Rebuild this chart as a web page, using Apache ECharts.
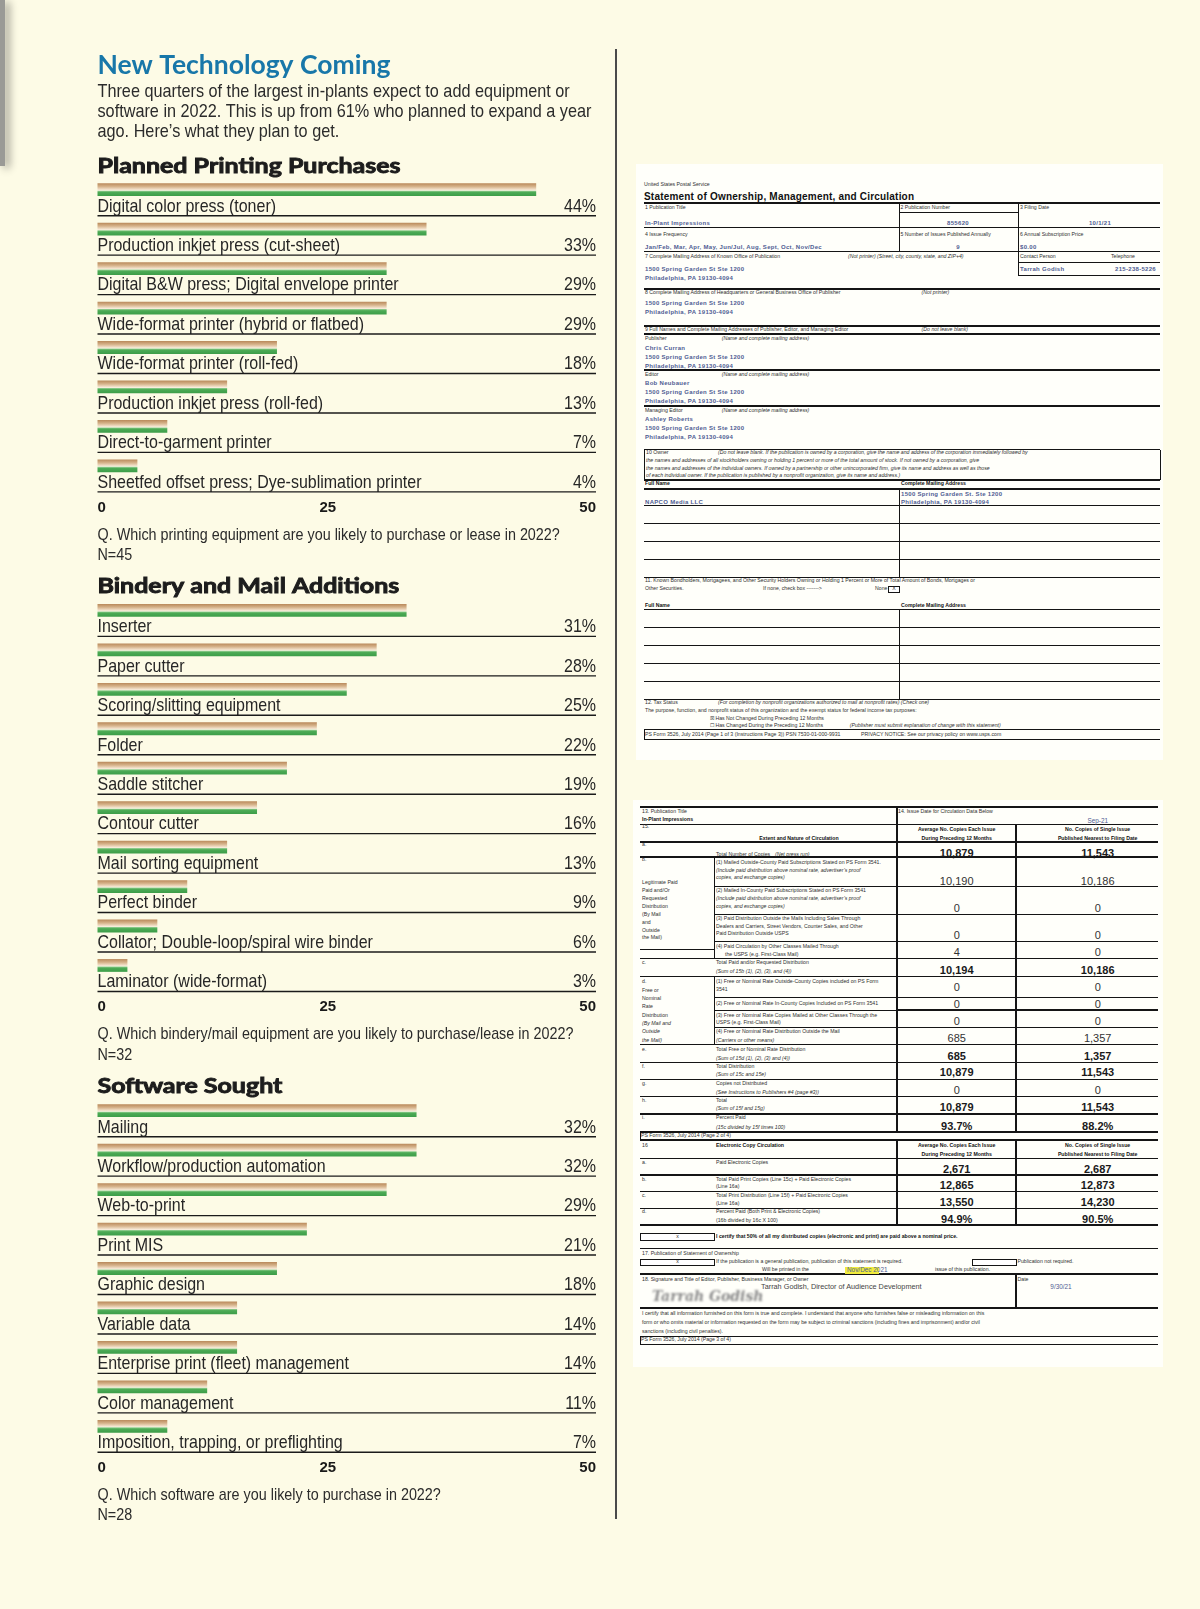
<!DOCTYPE html>
<html><head><meta charset="utf-8">
<script src="https://cdn.jsdelivr.net/npm/echarts@6/dist/echarts.min.js"></script>
<style>
html,body{margin:0;padding:0;background:#fdfbe6;}
#page{position:relative;width:1200px;height:1609px;overflow:hidden;background:#fdfbe6;}
#chart{position:absolute;left:0;top:0;width:612px;height:1609px;}
.panel{position:absolute;background:#fffffa;}
.ln{position:absolute;background:#151515;}
.bx{position:absolute;border:1.2px solid #151515;box-sizing:border-box;background:#fff;}
.tx{position:absolute;white-space:nowrap;font-family:"Liberation Sans",Arial,sans-serif;color:#303030;line-height:1.1;}
.t{font-size:5.2px;}
.ti{font-size:5.2px;font-style:italic;}
.tb{font-size:5.2px;font-weight:bold;color:#111;}
.bl{font-size:6px;font-weight:bold;color:#4f5d93;letter-spacing:.3px;}
.blr{font-size:6.4px;color:#4f5d93;}
.h{font-size:10px;font-weight:bold;color:#111;letter-spacing:.2px;}
.vb{font-size:11px;font-weight:bold;color:#1a1a1a;}
.vr{font-size:11px;color:#333;}
.nm{font-size:7.3px;color:#444;}
.sig{font-size:14px;font-style:italic;font-family:"DejaVu Serif",serif;color:#8a8a8a;filter:blur(1.1px);font-weight:bold;}
.hl{background:#f1ec3c;}
#divider{position:absolute;left:615px;top:49px;width:1.5px;height:1470px;background:#4a4a4a;}
#shadow{position:absolute;left:0;top:0;width:5px;height:166px;background:#9a9a96;box-shadow:4px 2px 9px rgba(0,0,0,.45);}
</style></head><body>
<div id="page"><div id="shadow"></div><div id="chart"></div><div id="divider"></div><div id="form"></div></div>
<script>
// ---------------- data ----------------
const printCats = ['Digital color press (toner)','Production inkjet press (cut-sheet)','Digital B&W press; Digital envelope printer','Wide-format printer (hybrid or flatbed)','Wide-format printer (roll-fed)','Production inkjet press (roll-fed)','Direct-to-garment printer','Sheetfed offset press; Dye-sublimation printer'];
const printVals = [44,33,29,29,18,13,7,4];
const binderyCats = ['Inserter','Paper cutter','Scoring/slitting equipment','Folder','Saddle stitcher','Contour cutter','Mail sorting equipment','Perfect binder','Collator; Double-loop/spiral wire binder','Laminator (wide-format)'];
const binderyVals = [31,28,25,22,19,16,13,9,6,3];
const softwareCats = ['Mailing','Workflow/production automation','Web-to-print','Print MIS','Graphic design','Variable data','Enterprise print (fleet) management','Color management','Imposition, trapping, or preflighting'];
const softwareVals = [32,32,29,21,18,14,14,11,7];
const axisTicks = [0,25,50];

// ---------------- styles ----------------
const SANS = '"Liberation Sans",Arial,sans-serif';
const ROW = 39.45;
const X0 = 97.5, XW = 498.5;
const LABEL_FS = 18.5, LABEL_SX = 0.864;
const TAN = {type:'linear',x:0,y:0,x2:0,y2:1,colorStops:[{offset:0,color:'#b9895a'},{offset:0.45,color:'#d6b38b'},{offset:0.8,color:'#efdcc4'},{offset:1,color:'#fbf3e6'}]};
const GREEN = {type:'linear',x:0,y:0,x2:0,y2:1,colorStops:[{offset:0,color:'#9fd39a'},{offset:0.3,color:'#4dab56'},{offset:1,color:'#3c9d48'}]};

const sections = [
  {cats: printCats, vals: printVals, top: 182.3},
  {cats: binderyCats, vals: binderyVals, top: 603},
  {cats: softwareCats, vals: softwareVals, top: 1103.3}
];

function txt(x, baseline, text, font, fill, fs, opts){
  opts = opts || {};
  const y = baseline - (opts.mid||0.35)*fs;
  const st = {text:text, font:font, fill:fill, align:'left', textAlign:'left', verticalAlign:'middle', textVerticalAlign:'middle'};
  if (opts.stroke) { st.stroke = fill; st.lineWidth = opts.stroke; }
  return {type:'text', x:x, y:y, scaleX:opts.sx||1, originX:0, originY:0, silent:true, style:st};
}

function rowSeries(gi, cats){
  return {
    type:'custom', xAxisIndex:gi, yAxisIndex:gi, clip:false, silent:true,
    data: sections[gi].vals.map((v,i)=>[v,i]),
    encode:{x:0,y:1},
    renderItem: function(params, api){
      const v = api.value(0), idx = api.value(1);
      const a = api.coord([axisTicks[0], idx]);
      const b = api.coord([v, idx]);
      const c = api.coord([axisTicks[2], idx]);
      const band = api.size([0,1])[1];
      const top = a[1] - band/2;
      const w = b[0] - a[0];
      const ty = top + 30.6 - 0.35*LABEL_FS;
      const font = LABEL_FS + 'px ' + SANS;
      return {type:'group', children:[
        {type:'rect', shape:{x:a[0], y:top+1, width:w, height:7.4}, style:{fill:TAN}},
        {type:'rect', shape:{x:a[0], y:top+8.4, width:w, height:5.4}, style:{fill:GREEN}},
        {type:'text', x:a[0], y:ty, scaleX:LABEL_SX, originX:0, originY:0, style:{text:cats[idx], font:font, fill:'#262626', align:'left', textAlign:'left', verticalAlign:'middle', textVerticalAlign:'middle'}},
        {type:'text', x:c[0], y:ty, scaleX:LABEL_SX, originX:0, originY:0, style:{text:v+'%', font:font, fill:'#262626', align:'right', textAlign:'right', verticalAlign:'middle', textVerticalAlign:'middle'}},
        {type:'line', shape:{x1:a[0], y1:top+33.4, x2:c[0], y2:top+33.4}, style:{stroke:'#1b1b1b', lineWidth:1.4}}
      ]};
    }
  };
}

const grids = [], xAxes = [], yAxes = [], series = [];
sections.forEach((s, i) => {
  grids.push({left:X0, top:s.top, width:XW, height:s.cats.length*ROW, containLabel:false});
  xAxes.push({gridIndex:i, type:'value', min:axisTicks[0], max:axisTicks[2], interval:axisTicks[1],
    axisLine:{show:false}, axisTick:{show:false}, splitLine:{show:false},
    axisLabel:{margin:2, color:'#1a1a1a', fontFamily:SANS, fontWeight:'bold', fontSize:15,
      alignMinLabel:'left', alignMaxLabel:'right',
      formatter: v => v === axisTicks[1] ? '{m|' + v + '}' : String(v),
      rich:{m:{padding:[0,38,0,0], fontFamily:SANS, fontWeight:'bold', fontSize:15, color:'#1a1a1a'}}}});
  yAxes.push({gridIndex:i, type:'category', data:s.cats, inverse:true, show:false});
  series.push(rowSeries(i, s.cats));
});

const PF = 19, PSX = 0.855, QF = 17, QSX = 0.845;
const pFont = PF+'px '+SANS, qFont = QF+'px '+SANS;
const hOpt = {mid:0.387, sx:1.19, stroke:0.9};
const graphics = [
  txt(97.5, 75.5, 'New Technology Coming', 'bold 26.5px Lato', '#1877a9', 26.5, {mid:0.387}),
  txt(97.5, 98.5, 'Three quarters of the largest in-plants expect to add equipment or', pFont, '#2b2b2b', PF, {sx:PSX}),
  txt(97.5, 118.5, 'software in 2022. This is up from 61% who planned to expand a year', pFont, '#2b2b2b', PF, {sx:PSX}),
  txt(97.5, 138.5, 'ago. Here\u2019s what they plan to get.', pFont, '#2b2b2b', PF, {sx:PSX}),
  txt(97.5, 174.3, 'Planned Printing Purchases', 'bold 21px Lato', '#1c1c1c', 21, hOpt),
  txt(97.5, 540.8, 'Q. Which printing equipment are you likely to purchase or lease in 2022?', qFont, '#2b2b2b', QF, {sx:QSX}),
  txt(97.5, 561.5, 'N=45', qFont, '#2b2b2b', QF, {sx:QSX}),
  txt(97.5, 594.3, 'Bindery and Mail Additions', 'bold 21px Lato', '#1c1c1c', 21, hOpt),
  txt(97.5, 1040.3, 'Q. Which bindery/mail equipment are you likely to purchase/lease in 2022?', qFont, '#2b2b2b', QF, {sx:QSX}),
  txt(97.5, 1061, 'N=32', qFont, '#2b2b2b', QF, {sx:QSX}),
  txt(97.5, 1094.3, 'Software Sought', 'bold 21px Lato', '#1c1c1c', 21, hOpt),
  txt(97.5, 1500.8, 'Q. Which software are you likely to purchase in 2022?', qFont, '#2b2b2b', QF, {sx:QSX}),
  txt(97.5, 1521.5, 'N=28', qFont, '#2b2b2b', QF, {sx:QSX})
];

const chart = echarts.init(document.getElementById('chart'), null, {renderer:'canvas'});
chart.setOption({
  animation:false,
  backgroundColor:'transparent',
  grid: grids, xAxis: xAxes, yAxis: yAxes, series: series,
  graphic: {elements: graphics}
});

// ---------------- form (right side document) ----------------
const form = document.getElementById('form');
function P(x,y,w,h){const d=document.createElement('div');d.className='panel';Object.assign(d.style,{left:x+'px',top:y+'px',width:w+'px',height:h+'px'});form.appendChild(d);}
function L(x1,y1,x2,y2,w){w=w||0.8;const d=document.createElement('div');d.className='ln';
  if(y1===y2){Object.assign(d.style,{left:x1+'px',top:(y1-w/2)+'px',width:(x2-x1)+'px',height:w+'px'});}
  else{Object.assign(d.style,{left:(x1-w/2)+'px',top:y1+'px',width:w+'px',height:(y2-y1)+'px'});}
  form.appendChild(d);}
function B(x,y,w,h){const d=document.createElement('div');d.className='bx';Object.assign(d.style,{left:x+'px',top:y+'px',width:w+'px',height:h+'px'});form.appendChild(d);}
function T(x,y,s,c,a){const d=document.createElement('div');d.className='tx '+c;d.textContent=s;d.style.left=x+'px';d.style.top=y+'px';
  d.style.transform = a==='c' ? 'translate(-50%,-50%)' : a==='r' ? 'translate(-100%,-50%)' : 'translateY(-50%)';form.appendChild(d);}

P(636,164,527,596);
P(633,800,530,567);

// panel 1 lines
const XL=644, XR=1160;
L(XL,202.5,XR,202.5,2);
L(899,212.5,1018,212.5);
L(XL,227.5,XR,227.5);
L(XL,251,XR,251);
L(899,202.5,899,251);
L(1018,202.5,1018,275);
L(1018,262,XR,262);
L(1018,275,XR,275);
L(XL,288.5,XR,288.5,2);
L(XL,325.5,XR,325.5,2);
L(XL,333.5,XR,333.5,2);
L(XL,370,XR,370,2);
L(XL,405.5,XR,405.5,2);
L(XL,449.5,XR,449.5,1);
L(XL,449.5,XL,479.5,1);L(XR,449.5,XR,479.5,1);
L(XL,479.5,XR,479.5,2);
L(XL,488.5,XR,488.5,2);
[505.5,523.5,541,559,577].forEach(y=>L(XL,y,XR,y,1));
L(899.5,488.5,899.5,577,1);
L(XL,609.5,XR,609.5,1);
[627.3,645.3,663.3,681.3,699.3].forEach(y=>L(XL,y,XR,y,1));
L(899.5,609.5,899.5,699.3,1);
L(XL,729.5,XR,729.5,1);
L(XL,739.5,XR,739.5,1);
L(XL,729.5,XL,739.5,1);
B(888,585.5,12,7);

// panel 1 texts
const addr1 = '1500 Spring Garden St Ste 1200', addr2 = 'Philadelphia, PA 19130-4094';
[
 [644,185,'United States Postal Service','t'],
 [644,196,'Statement of Ownership, Management, and Circulation','h'],
 [645,208.3,'1  Publication Title','t'],[900.5,208.3,'2  Publication Number','t'],[1020,208.3,'3  Filing Date','t'],
 [645,223.3,'In-Plant Impressions','bl'],[958,223.3,'855620','bl','c'],[1100,223.3,'10/1/21','bl','c'],
 [645,234.7,'4  Issue Frequency','t'],[900.5,234.7,'5  Number of Issues Published Annually','t'],[1020,234.7,'6  Annual Subscription Price','t'],
 [645,247.3,'Jan/Feb, Mar, Apr, May, Jun/Jul, Aug, Sept, Oct, Nov/Dec','bl'],[958,247.3,'9','bl','c'],[1020,247.3,'$0.00','bl'],
 [645,256.7,'7  Complete Mailing Address of Known Office of Publication','t'],[848,256.7,'(Not printer) (Street, city, county, state, and ZIP+4)','ti'],[1020,256.7,'Contact Person','t'],[1111,256.7,'Telephone','t'],
 [645,269.3,addr1,'bl'],[1020,269.3,'Tarrah Godish','bl'],[1156,269.3,'215-238-5226','bl','r'],
 [645,278.3,addr2,'bl'],
 [645,293.3,'8  Complete Mailing Address of Headquarters or General Business Office of Publisher','t'],[921.6,293.3,'(Not printer)','ti'],
 [645,302.7,addr1,'bl'],[645,311.7,addr2,'bl'],
 [645,330,'9  Full Names and Complete Mailing Addresses of Publisher, Editor, and Managing Editor','t'],[921.6,330,'(Do not leave blank)','ti'],
 [645,339,'Publisher','t'],[721.7,339,'(Name and complete mailing address)','ti'],
 [645,348.3,'Chris Curran','bl'],[645,357.3,addr1,'bl'],[645,366,addr2,'bl'],
 [645,375,'Editor','t'],[721.7,375,'(Name and complete mailing address)','ti'],
 [645,383.3,'Bob Neubauer','bl'],[645,392.3,addr1,'bl'],[645,401.3,addr2,'bl'],
 [645,411,'Managing Editor','t'],[721.7,411,'(Name and complete mailing address)','ti'],
 [645,419.3,'Ashley Roberts','bl'],[645,428.3,addr1,'bl'],[645,437.3,addr2,'bl'],
 [646,453.3,'10  Owner','t'],[718,453.3,'(Do not leave blank.  If the publication is owned by a corporation, give the name and address of the corporation immediately followed by','ti'],
 [646,461,'the names and addresses of all stockholders owning or holding 1 percent or more of the total amount of stock.  If not owned by a corporation, give','ti'],
 [646,469,'the names and addresses of the individual owners.  If owned by a partnership or other unincorporated firm, give its name and address as well as those','ti'],
 [646,476,'of each individual owner.  If the publication is published by a nonprofit organization, give its name and address.)','ti'],
 [645,484,'Full Name','tb'],[901,484,'Complete Mailing Address','tb'],
 [901,494,'1500 Spring Garden St. Ste 1200','bl'],[645,501.5,'NAPCO Media LLC','bl'],[901,501.5,addr2,'bl'],
 [645,581,'11.  Known Bondholders, Mortgagees, and Other Security Holders Owning or Holding 1 Percent or More of Total Amount of Bonds, Mortgages or','t'],
 [645,589,'Other Securities.','t'],[763,589,'If none, check box  ------->','t'],[875,589,'None','t'],[894,589,'X','t','c'],
 [645,606,'Full Name','tb'],[901,606,'Complete Mailing Address','tb'],
 [645,702.7,'12.  Tax Status','t'],[718,702.7,'(For completion by nonprofit organizations authorized to mail at nonprofit rates) (Check one)','ti'],
 [645,711,'The purpose, function, and nonprofit status of this organization and the exempt status for federal income tax purposes:','t'],
 [710,719,'\u2612  Has Not Changed During Preceding 12 Months','t'],
 [710,725.7,'\u2610  Has Changed During the Preceding 12 Months','t'],[849.7,725.7,'(Publisher must submit explanation of change with this statement)','ti'],
 [645,734.7,'PS Form 3526, July 2014 (Page 1 of 3 (Instructions Page 3)) PSN 7530-01-000-9931','t'],[861,734.7,'PRIVACY NOTICE: See our privacy policy on www.usps.com','t']
].forEach(r=>T(r[0],r[1],r[2],r[3],r[4]));

// panel 2 lines
const X2L=640, X2R=1158, C1=897, C2=1015.6, SUB=714;
L(X2L,806.7,X2R,806.7,2);
L(X2L,824,X2R,824,1);
L(X2L,842.3,X2R,842.3,2);
L(X2L,857.3,X2R,857.3,2);
[886,914,941.7].forEach(y=>L(SUB,y,X2R,y,1));
L(X2L,949,SUB,949,1);
L(X2L,958.3,X2R,958.3,1.5);
L(X2L,976.7,X2R,976.7,1.5);
L(SUB,997,X2R,997,1);
L(SUB,1010,C1,1010,1);L(C1,1010,X2R,1010,2);
L(SUB,1027.3,X2R,1027.3,1);
[1044.3,1062.7,1079.3,1096.7,1114].forEach(y=>L(X2L,y,X2R,y,1.5));
L(X2L,1131.7,X2R,1131.7,2);
L(X2L,1140,X2R,1140,1.2);
[1158.3,1175,1191.7,1208.3].forEach(y=>L(X2L,y,X2R,y,1.5));
L(X2L,1225,X2R,1225,2.5);
L(X2L,1248.3,X2R,1248.3,0.8);
L(X2L,1274.3,X2R,1274.3,2);
L(X2L,1308.3,X2R,1308.3,2);
L(X2L,1336,X2R,1336,0.8);
L(X2L,1344.3,X2R,1344.3,0.8);
L(X2L,1131.7,X2L,1140,1);L(X2L,1336,X2L,1344.3,1);
L(C1,806.7,C1,1131.7,2);
L(C2,824,C2,1131.7,2);
L(C1,1140,C1,1225,2);
L(C2,1140,C2,1225,2);
L(SUB,857.3,SUB,958.3,1);
L(SUB,976.7,SUB,1044.3,1);
L(C2,1274.3,C2,1308.3,2);
B(640,1233.3,75,7.6);
B(640,1258.7,75,7.6);
B(971.5,1258.7,45,7.6);
const hl=document.createElement('div');hl.className='hl';Object.assign(hl.style,{position:'absolute',left:'845px',top:'1266.6px',width:'34px',height:'7px'});form.appendChild(hl);

// panel 2 texts
const A=956.7, Bc=1097.7;
[
 [642,811.7,'13.  Publication Title','t'],[898,811.7,'14.  Issue Date for Circulation Data Below','t'],
 [642,820,'In-Plant Impressions','tb'],[Bc,820.5,'Sep-21','blr','c'],
 [642,827.3,'15.','t'],
 [A,830,'Average No. Copies Each Issue','tb','c'],[Bc,830,'No. Copies of Single Issue','tb','c'],
 [799,839.3,'Extent and Nature of Circulation','tb','c'],[A,839.3,'During Preceding 12 Months','tb','c'],[Bc,839.3,'Published Nearest to Filing Date','tb','c'],
 [642,845,'a.','t'],[716,855,'Total Number of Copies','t'],[775,855,'(Net press run)','ti'],[A,853.3,'10,879','vb','c'],[Bc,853.3,'11,543','vb','c'],
 [642,860,'b.','t'],[642,883.3,'Legitimate Paid','t'],[642,890.7,'Paid and/Or','t'],[642,898.7,'Requested','t'],[642,906.7,'Distribution','t'],[642,915,'(By Mail','t'],[642,922.7,'and','t'],[642,931,'Outside','t'],[642,938.3,'the Mail)','t'],
 [716,863.3,'(1)  Mailed Outside-County Paid Subscriptions Stated on PS Form 3541.','t'],[716,870.7,'(Include paid distribution above nominal rate, advertiser\u2019s proof','ti'],[716,877.7,'copies, and exchange copies)','ti'],[A,881,'10,190','vr','c'],[Bc,881,'10,186','vr','c'],
 [716,890.7,'(2)  Mailed In-County Paid Subscriptions Stated on PS Form 3541','t'],[716,898.7,'(Include paid distribution above nominal rate, advertiser\u2019s proof','ti'],[716,906.7,'copies, and exchange copies)','ti'],[A,908.3,'0','vr','c'],[Bc,908.3,'0','vr','c'],
 [716,919,'(3)  Paid Distribution Outside the Mails Including Sales Through','t'],[716,926.7,'Dealers and Carriers, Street Vendors, Counter Sales, and Other','t'],[716,934.3,'Paid Distribution Outside USPS','t'],[A,935,'0','vr','c'],[Bc,935,'0','vr','c'],
 [716,946.7,'(4)  Paid Circulation by Other Classes Mailed Through','t'],[725,954.7,'the USPS (e.g. First-Class Mail)','t'],[A,951.7,'4','vr','c'],[Bc,951.7,'0','vr','c'],
 [642,963.3,'c.','t'],[716,963.3,'Total Paid and/or Requested Distribution','t'],[716,971.7,'(Sum of 15b (1), (2), (3), and (4))','ti'],[A,970,'10,194','vb','c'],[Bc,970,'10,186','vb','c'],
 [642,981.7,'d.','t'],[642,990.7,'Free or','t'],[642,999,'Nominal','t'],[642,1007.3,'Rate','t'],[642,1015.7,'Distribution','t'],[642,1024,'(By Mail and','ti'],[642,1032.3,'Outside','ti'],[642,1040.7,'the Mail)','ti'],
 [716,981.7,'(1)  Free or Nominal Rate Outside-County Copies included on PS Form','t'],[716,990,'3541','t'],[A,986.7,'0','vr','c'],[Bc,986.7,'0','vr','c'],
 [716,1004,'(2)  Free or Nominal Rate In-County Copies Included on PS Form 3541','t'],[A,1004,'0','vr','c'],[Bc,1004,'0','vr','c'],
 [716,1015.7,'(3)  Free or Nominal Rate Copies Mailed at Other Classes Through the','t'],[716,1023.3,'USPS (e.g. First-Class Mail)','t'],[A,1020.7,'0','vr','c'],[Bc,1020.7,'0','vr','c'],
 [716,1031.7,'(4)  Free or Nominal Rate Distribution Outside the Mail','t'],[716,1040.7,'(Carriers or other means)','ti'],[A,1037.7,'685','vr','c'],[Bc,1037.7,'1,357','vr','c'],
 [642,1050,'e.','t'],[716,1050,'Total Free or Nominal Rate Distribution','t'],[716,1059,'(Sum of 15d (1), (2), (3) and (4))','ti'],[A,1056,'685','vb','c'],[Bc,1056,'1,357','vb','c'],
 [642,1066.7,'f.','t'],[716,1066.7,'Total Distribution','t'],[716,1075,'(Sum of 15c and 15e)','ti'],[A,1072.3,'10,879','vb','c'],[Bc,1072.3,'11,543','vb','c'],
 [642,1084,'g.','t'],[716,1084,'Copies not Distributed','t'],[716,1093.3,'(See Instructions to Publishers #4 (page #3))','ti'],[A,1090,'0','vr','c'],[Bc,1090,'0','vr','c'],
 [642,1100.7,'h.','t'],[716,1100.7,'Total','t'],[716,1109.3,'(Sum of 15f and 15g)','ti'],[A,1107.3,'10,879','vb','c'],[Bc,1107.3,'11,543','vb','c'],
 [642,1118.3,'i.','t'],[716,1118.3,'Percent Paid','t'],[716,1127.7,'(15c divided by 15f times 100)','ti'],[A,1125.7,'93.7%','vb','c'],[Bc,1125.7,'88.2%','vb','c'],
 [641,1136.2,'PS Form 3526, July 2014 (Page 2 of 4)','t'],
 [642,1145.7,'16','t'],[716,1145.7,'Electronic Copy Circulation','tb'],[A,1145.7,'Average No. Copies Each Issue','tb','c'],[Bc,1145.7,'No. Copies of Single Issue','tb','c'],
 [A,1155,'During Preceding 12 Months','tb','c'],[Bc,1155,'Published Nearest to Filing Date','tb','c'],
 [642,1162.7,'a.','t'],[716,1162.7,'Paid Electronic Copies','t'],[A,1169,'2,671','vb','c'],[Bc,1169,'2,687','vb','c'],
 [642,1180,'b.','t'],[716,1180,'Total Paid Print Copies (Line 15c) + Paid Electronic Copies','t'],[716,1187.3,'(Line 16a)','t'],[A,1185,'12,865','vb','c'],[Bc,1185,'12,873','vb','c'],
 [642,1196,'c.','t'],[716,1196,'Total Print Distribution (Line 15f) + Paid Electronic Copies','t'],[716,1204,'(Line 16a)','t'],[A,1201.7,'13,550','vb','c'],[Bc,1201.7,'14,230','vb','c'],
 [642,1212.3,'d.','t'],[716,1212.3,'Percent Paid (Both Print & Electronic Copies)','t'],[716,1220.7,'(16b divided by 16c X 100)','t'],[A,1219,'94.9%','vb','c'],[Bc,1219,'90.5%','vb','c'],
 [677.5,1237,'x','t','c'],[716,1237,'I certify that 50% of all my distributed copies (electronic and print) are paid above a nominal price.','tb'],
 [642,1254,'17. Publication of Statement of Ownership','t'],
 [677.5,1262.4,'x','t','c'],[716,1262,'If the publication is a general publication, publication of this statement is required.','t'],[1017.5,1262,'Publication not required.','t'],
 [762,1270,'Will be printed in the','t'],[847,1270,'Nov/Dec 2021','blr'],[935,1270,'issue of this publication.','t'],
 [642,1280,'18. Signature and Title of Editor, Publisher, Business Manager, or Owner','t'],[1017.5,1280,'Date','t'],
 [761,1287.3,'Tarrah Godish, Director of Audience Development','nm'],[1061,1287.3,'9/30/21','blr','c'],
 [652,1297,'Tarrah Godish','sig'],
 [642,1314,'I certify that all information furnished on this form is true and complete. I understand that anyone who furnishes false or misleading information on this','t'],
 [642,1322.7,'form or who omits material or information requested on the form may be subject to criminal sanctions (including fines and imprisonment) and/or civil','t'],
 [642,1331.7,'sanctions (including civil penalties).','t'],
 [641,1340.2,'PS Form 3526, July 2014 (Page 3 of 4)','t']
].forEach(r=>T(r[0],r[1],r[2],r[3],r[4]));
</script></body></html>
